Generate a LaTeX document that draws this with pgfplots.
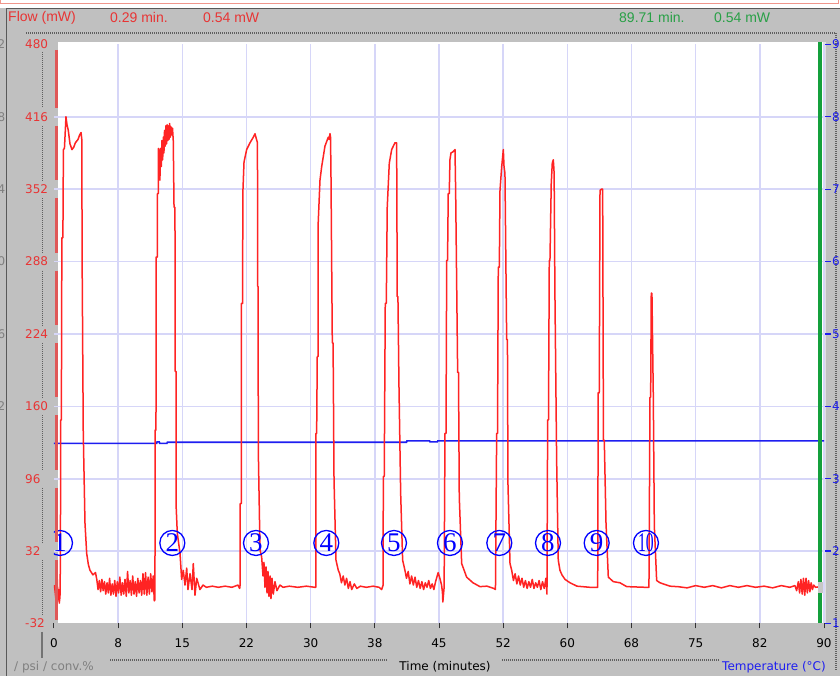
\documentclass[border=0pt]{standalone}
\usepackage{fontspec}
\usepackage{graphicx}
\usepackage{pgfplots}
\pgfplotsset{compat=1.18}
\setmainfont{DejaVu Sans}
\newfontfamily\hdr{Liberation Sans}
\newfontfamily\serif{Liberation Serif}
\definecolor{bg}{RGB}{192,192,192}
\definecolor{gridc}{RGB}{214,214,248}
\definecolor{trace}{RGB}{255,35,35}
\definecolor{lblred}{RGB}{232,52,52}
\definecolor{barred}{RGB}{224,88,88}
\definecolor{grn}{RGB}{20,160,60}
\definecolor{hgrn}{RGB}{40,160,70}
\definecolor{tblue}{RGB}{30,30,240}
\definecolor{dotc}{RGB}{95,95,95}
\definecolor{pinkc}{RGB}{240,150,140}
\newcommand\circf{\serif\fontsize{27}{27}\selectfont}
\newcommand\tf{\fontsize{12}{14}\selectfont}
\begin{document}
\begin{tikzpicture}
\useasboundingbox (0,0) rectangle (840pt,676pt);
\clip (0,0) rectangle (840pt,676pt);
\begin{scope}[x=1pt,y=-1pt,yshift=676pt]
 \fill[white] (0,0) rectangle (840,8);
 \draw[pinkc, line width=1pt] (0.5,0) -- (0.5,4) -- (838,4) -- (838,0);
 \fill[bg] (0,8) rectangle (840,676);
 \draw[black!65, line width=1pt] (6.5,676) -- (6.5,8.5) -- (840,8.5);
 \fill[white] (58.3,41.7) rectangle (823,623.5);
 \fill[black!12] (823,41.7) rectangle (826,623.5);
 % header
 \node[anchor=west, inner sep=0pt, text=lblred, font=\hdr\fontsize{14}{16}\selectfont] at (8,18) {Flow (mW)};
 \node[anchor=west, inner sep=0pt, text=lblred, font=\hdr\fontsize{14}{16}\selectfont] at (110,18) {0.29 min.};
 \node[anchor=west, inner sep=0pt, text=lblred, font=\hdr\fontsize{14}{16}\selectfont] at (203,18) {0.54 mW};
 \node[anchor=west, inner sep=0pt, text=hgrn, font=\hdr\fontsize{14}{16}\selectfont] at (619,18) {89.71 min.};
 \node[anchor=west, inner sep=0pt, text=hgrn, font=\hdr\fontsize{14}{16}\selectfont] at (714,18) {0.54 mW};
 % dotted frame lines
 \draw[dotc, line width=1.4pt, dash pattern=on 1pt off 1pt] (26,33) -- (836,33) -- (836,670);
 \draw[dotc, line width=1.4pt, dash pattern=on 1pt off 1pt] (110,660) -- (388,660);
 \draw[dotc, line width=1.4pt, dash pattern=on 1pt off 1pt] (502,660) -- (720,660);
 \foreach \a/\b in {52/107.8,125.8/180.2,198.2/252.6,270.6/325,343/397.4,415.4/469.8,487.8/542.1,560.1/614.5}
   \draw[dotc, line width=1.4pt, dash pattern=on 1pt off 1pt] (42.5,\a) -- (42.5,\b);
 \draw[black!55, line width=2pt] (41.7,632) -- (41.7,658);
 % cut digits of a hidden axis (as in the reference)
 \foreach \yy/\d in {44.4/2,116.8/8,189.2/4,261.6/0,334/6,406.4/2}
   \node[anchor=east, inner sep=0pt, text=black!50, font=\tf] at (5.5,\yy) {\d};
 % bottom labels
 \node[anchor=west, inner sep=0pt, text=black!50, font=\tf] at (14,667) {/ psi / conv.\%};
 \node[inner sep=0pt, text=black, font=\tf] at (445,667) {Time (minutes)};
 \node[anchor=west, inner sep=0pt, text=tblue, font=\tf] at (722,667) {Temperature (°C)};
\end{scope}

\begin{axis}[
 at={(54pt,52.5pt)}, anchor=south west, scale only axis,
 width=770pt, height=579.1pt,
 xmin=0, xmax=90, ymin=-32, ymax=480,
 axis line style={draw=none},
 xtick={7.5,15,22.5,30,37.5,45,52.5,60,67.5,75,82.5,90},
 xticklabels={8,15,22,30,38,45,52,60,68,75,82,90},
 extra x ticks={0}, extra x tick labels={0}, extra x tick style={grid=none},
 ytick={32,96,160,224,288,352,416},
 yticklabels={32,96,160,224,288,352,416},
 extra y ticks={-32,480}, extra y tick labels={-32,480}, extra y tick style={grid=none},
 grid=major, major grid style={draw=gridc, line width=1.6pt},
 tick align=inside, xtick pos=bottom, ytick pos=left,
 major tick length=5pt,
 xtick style={draw=black!80, line width=1pt, yshift=-5pt},
 ytick style={draw=none},
 xticklabel style={anchor=center, inner sep=0pt, yshift=-19.5pt, font=\tf},
 yticklabel style={anchor=west, inner sep=0pt, xshift=-29pt, text=lblred, font=\tf},
]
% temperature line
\addplot[tblue, line width=1.6pt] coordinates {(0,127.3) (12.0,127.3) (12.05,128.6) (12.3,128.6) (12.35,127.3) (13.2,127.3) (13.25,128.2) (41.2,128.2) (41.25,129.4) (43.9,129.4) (43.95,128.6) (44.8,128.6) (44.85,129.4) (90,129.4)};
% flow trace
\addplot[trace, line width=1.5pt, line join=round] coordinates {
(0.05,2) (0.12,-3) (0.20,-9) (0.29,0.54) (0.38,7) (0.46,-11) (0.55,-2) (0.62,-14) (0.70,-8)
(0.75,24) (0.78,148) (0.86,148) (0.92,309) (1.04,309) (1.10,387) (1.22,388) (1.40,416) (1.52,409)
(1.67,404) (1.87,392) (2.10,387) (2.30,389) (2.50,393) (2.81,396) (3.00,400) (3.16,402) (3.25,396)
(3.29,287) (3.42,137) (3.62,57) (3.82,30) (4.02,20) (4.21,15) (4.55,11) (4.85,13) (5.00,7)
(5.15,-2) (5.30,6) (5.45,-4) (5.60,7) (5.75,-3) (5.90,5) (6.05,-6) (6.20,4) (6.35,-5) (6.50,8)
(6.65,-7) (6.80,3) (6.95,-6) (7.10,6) (7.25,-8) (7.40,5) (7.55,-5) (7.70,9) (7.85,-7) (8.00,4)
(8.15,-6) (8.30,7) (8.45,-8) (8.60,14) (8.75,-5) (8.90,6) (9.05,-7) (9.20,10) (9.35,-6) (9.50,5)
(9.65,-8) (9.80,8) (9.95,-5) (10.10,6) (10.25,-7) (10.40,12) (10.55,-6) (10.70,13) (10.85,-7)
(11.00,9) (11.15,-6) (11.30,12) (11.45,-4) (11.60,10) (11.72,-12)
(11.80,-11) (11.82,139) (11.92,139) (11.94,292) (12.07,292) (12.09,348) (12.19,348) (12.21,388)
(12.30,385) (12.38,360) (12.45,388) (12.55,372) (12.62,395) (12.70,378) (12.78,398) (12.85,384)
(12.92,404) (13.00,390) (13.08,408) (13.15,392) (13.22,409) (13.30,395) (13.38,408) (13.45,396)
(13.52,410) (13.60,398) (13.68,407) (13.75,400) (13.85,406) (13.94,395) (14.03,336) (14.14,336)
(14.16,191) (14.26,191) (14.28,71) (14.41,48) (14.73,30) (14.92,7) (15.11,15) (15.31,2) (15.51,17)
(15.66,-2) (15.90,12) (16.13,-2) (16.28,21) (16.48,-7) (16.68,8) (17.06,-2) (17.42,2) (17.80,0)
(18.50,1) (19.20,0) (20.00,1) (20.80,0) (21.50,2) (21.70,-1)
(21.74,0.5) (21.76,74) (21.89,74) (21.91,251) (22.05,251) (22.07,348) (22.21,376) (22.52,387)
(22.91,393) (23.30,398) (23.49,401) (23.78,393) (23.81,266) (23.86,266) (23.88,121) (24.08,33)
(24.27,27) (24.43,10) (24.54,22) (24.66,0) (24.78,18) (24.90,-5) (25.01,14) (25.13,-8) (25.25,10)
(25.36,-10) (25.48,8) (25.63,-6) (25.83,5) (26.06,-3) (26.41,2) (26.77,0) (27.5,1) (28.5,0)
(29.5,1) (30.5,0)
(30.60,0) (30.62,136) (30.70,136) (30.77,204) (30.86,204) (30.88,322) (31.09,360) (31.29,372)
(31.67,390) (32.06,398) (32.15,396) (32.26,401) (32.32,398) (32.37,369) (32.53,216) (32.62,216)
(32.73,95) (32.96,24) (33.23,15) (33.40,12) (33.60,4) (33.80,10) (34.00,2) (34.20,8) (34.40,-1)
(34.60,5) (34.80,-2) (35.10,3) (35.40,-1) (35.80,1) (36.5,0) (37.3,1) (38.0,0) (38.30,-2)
(38.47,2) (38.49,98) (38.60,98) (38.72,251) (38.84,251) (38.95,336) (39.19,375) (39.47,387)
(39.85,393) (40.05,393) (40.12,257) (40.20,257) (40.32,179) (40.52,83) (40.75,24) (41.02,15)
(41.20,8) (41.40,14) (41.60,3) (41.80,10) (42.00,2) (42.20,9) (42.40,0) (42.60,6) (42.80,-1)
(43.00,5) (43.20,-2) (43.40,4) (43.60,0) (43.80,6) (44.00,-1) (44.20,3) (44.40,-2) (44.60,5)
(44.90,13) (45.10,8) (45.30,2) (45.40,-4) (45.45,-13) (45.60,0)
(45.70,136) (45.82,136) (45.90,289) (46.00,289) (46.08,348) (46.20,348) (46.28,378) (46.40,384)
(46.63,385) (46.87,387) (46.95,348) (47.18,190) (47.28,190) (47.37,80) (47.65,21) (48.23,9)
(48.97,4) (49.79,0.6) (50.6,1) (51.4,-1) (51.60,-2)
(51.74,136) (51.84,136) (51.93,283) (52.05,283) (52.13,351) (52.33,372) (52.52,387) (52.60,372)
(52.71,366) (52.91,219) (53.00,219) (53.06,92) (53.30,21) (53.50,15) (53.70,6) (53.90,12)
(54.10,3) (54.30,10) (54.50,2) (54.70,8) (54.90,0) (55.10,6) (55.30,-1) (55.50,5) (55.70,0)
(55.90,7) (56.10,-1) (56.30,4) (56.50,0) (56.70,6) (56.90,-2) (57.10,5) (57.30,-1) (57.50,8)
(57.62,-6)
(57.70,148) (57.80,148) (57.89,289) (57.97,289) (58.12,357) (58.24,375) (58.36,378) (58.44,369)
(58.47,351) (58.55,260) (58.75,113) (58.94,24) (59.14,15) (59.37,11) (59.73,7) (60.31,4)
(61.13,1) (62.65,0) (63.47,0)
(63.55,0) (63.61,172) (63.73,172) (63.82,351) (63.99,352) (64.13,352) (64.22,130) (64.32,130)
(64.52,57) (64.79,9) (65.37,5) (66.15,4) (66.94,0.6) (69.07,0) (69.50,0)
(69.54,0) (69.66,168) (69.74,168) (69.81,260) (69.89,260) (70.05,168) (70.17,54) (70.44,6)
(70.83,4) (72.0,1) (73,0.5) (74,-0.5) (75,1.5) (76,0) (77,1.5) (78,-0.5) (79,1.5) (80,0)
(81,1.5) (82,0) (83,1) (84,-0.5) (85,1.5) (86,0) (86.6,1.5) (86.8,-3) (87.0,5) (87.15,-5)
(87.3,7) (87.45,-6) (87.6,8) (87.75,-7) (87.9,8) (88.05,-5) (88.2,6) (88.35,-4) (88.5,4)
(88.65,-2) (88.8,2) (89.0,0) (89.5,0.5)
};
% peak numbers
\tikzset{pk/.style={circle, draw=blue, line width=1.3pt, minimum size=25pt, inner sep=0pt, text=blue, font=\circf}}
\node[pk] at (axis cs:0.70,39.2) {1};
\node[pk] at (axis cs:13.83,39.2) {2};
\node[pk] at (axis cs:23.61,39.2) {3};
\node[pk] at (axis cs:31.83,39.2) {4};
\node[pk] at (axis cs:39.74,39.2) {5};
\node[pk] at (axis cs:46.28,39.2) {6};
\node[pk] at (axis cs:52.05,39.2) {7};
\node[pk] at (axis cs:57.74,39.2) {8};
\node[pk] at (axis cs:63.43,39.2) {9};
\node[pk] at (axis cs:69.19,39.2) {\scalebox{0.58}[1]{10}};
\end{axis}

\begin{axis}[
 at={(54pt,52.5pt)}, anchor=south west, scale only axis,
 width=770pt, height=579.1pt,
 xmin=0, xmax=90, ymin=1, ymax=9,
 axis x line=none, axis y line*=right, y axis line style={draw=none},
 ytick={1,2,3,4,5,6,7,8,9}, yticklabels={1,2,3,4,5,6,7,8,9},
 tick align=inside, major tick length=6pt,
 ytick style={draw=tblue, line width=1.3pt, xshift=7pt},
 yticklabel style={anchor=west, inner sep=0pt, xshift=8pt, text=tblue, font=\tf},
]
\addplot[draw=none] coordinates {(0,1) (90,9)};
\end{axis}

\begin{scope}[x=1pt,y=-1pt,yshift=676pt]
 \foreach \a/\b in {50/107.8,125.8/180.2,198.2/252.6,270.6/325,343/397.4,415.4/469.8,487.8/542.1,560.1/620}
   \draw[barred, line width=3.5pt] (56.5,\a) -- (56.5,\b);
 \draw[grn, line width=4.3pt] (820.3,41.7) -- (820.3,623.5);
 \fill[black!22] (818,582) rectangle (823,593);
\end{scope}
\end{tikzpicture}
\end{document}
